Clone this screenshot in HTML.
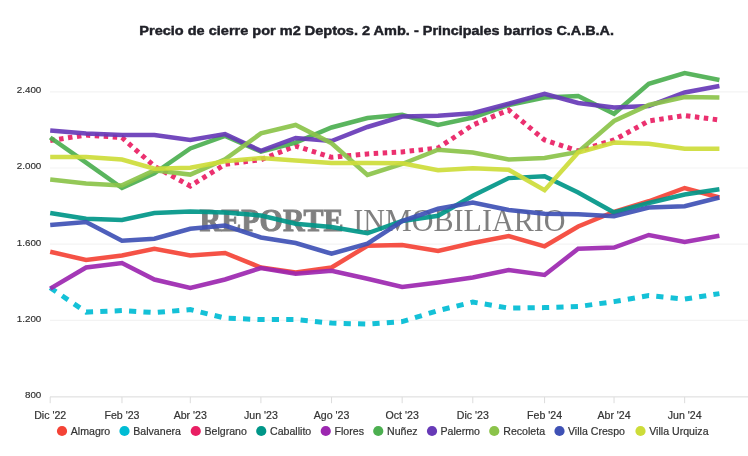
<!DOCTYPE html>
<html lang="es"><head><meta charset="utf-8"><title>Precio de cierre por m2</title>
<style>
html,body{margin:0;padding:0;background:#fff;}
body{width:748px;height:456px;overflow:hidden;font-family:"Liberation Sans",Arial,sans-serif;}
svg{display:block;}
.t{font-family:"Liberation Sans",Arial,sans-serif;font-weight:700;font-size:13.4px;fill:#202128;stroke:#202128;stroke-width:.45px;}
.yl{font-family:"Liberation Sans",Arial,sans-serif;font-size:9.8px;fill:#2e2e2e;stroke:#2e2e2e;stroke-width:.15px;}
.xl{font-family:"Liberation Sans",Arial,sans-serif;font-size:10.6px;fill:#333;stroke:#333;stroke-width:.2px;}
.lg{font-family:"Liberation Sans",Arial,sans-serif;font-size:10.6px;fill:#333;stroke:#333;stroke-width:.2px;}
.ln{fill:none;stroke-linejoin:miter;stroke-miterlimit:10;stroke-linecap:butt;}
.wm{font-family:"Liberation Serif","Times New Roman",serif;font-size:31px;}
</style></head><body>
<svg width="748" height="456" viewBox="0 0 748 456">
<rect width="748" height="456" fill="#fff"/>
<text class="t" x="139.3" y="34.6" textLength="283.5" lengthAdjust="spacingAndGlyphs">Precio de cierre por m2 Deptos. 2 Amb. -&#160;</text><text class="t" x="422.8" y="34.6" textLength="191.2" lengthAdjust="spacingAndGlyphs">Principales barrios C.A.B.A.</text>
<line x1="50" x2="748" y1="91.8" y2="91.8" stroke="#f3f3f3" stroke-width="1.2"/>
<line x1="50" x2="748" y1="168.0" y2="168.0" stroke="#f3f3f3" stroke-width="1.2"/>
<line x1="50" x2="748" y1="244.2" y2="244.2" stroke="#f3f3f3" stroke-width="1.2"/>
<line x1="50" x2="748" y1="320.4" y2="320.4" stroke="#f3f3f3" stroke-width="1.2"/>
<line x1="50" x2="748" y1="396.9" y2="396.9" stroke="#dadada" stroke-width="1"/>
<text class="yl" x="41.3" y="93.1" text-anchor="end">2.400</text>
<text class="yl" x="41.3" y="169.3" text-anchor="end">2.000</text>
<text class="yl" x="41.3" y="245.5" text-anchor="end">1.600</text>
<text class="yl" x="41.3" y="321.7" text-anchor="end">1.200</text>
<text class="yl" x="41.3" y="398.2" text-anchor="end">800</text>
<line x1="50.20" x2="50.20" y1="396.9" y2="403.2" stroke="#dcdcdc" stroke-width="1"/>
<text class="xl" x="50.20" y="418.7" text-anchor="middle">Dic '22</text>
<line x1="121.98" x2="121.98" y1="396.9" y2="403.2" stroke="#dcdcdc" stroke-width="1"/>
<text class="xl" x="121.98" y="418.7" text-anchor="middle">Feb '23</text>
<line x1="190.29" x2="190.29" y1="396.9" y2="403.2" stroke="#dcdcdc" stroke-width="1"/>
<text class="xl" x="190.29" y="418.7" text-anchor="middle">Abr '23</text>
<line x1="260.92" x2="260.92" y1="396.9" y2="403.2" stroke="#dcdcdc" stroke-width="1"/>
<text class="xl" x="260.92" y="418.7" text-anchor="middle">Jun '23</text>
<line x1="331.55" x2="331.55" y1="396.9" y2="403.2" stroke="#dcdcdc" stroke-width="1"/>
<text class="xl" x="331.55" y="418.7" text-anchor="middle">Ago '23</text>
<line x1="402.17" x2="402.17" y1="396.9" y2="403.2" stroke="#dcdcdc" stroke-width="1"/>
<text class="xl" x="402.17" y="418.7" text-anchor="middle">Oct '23</text>
<line x1="472.80" x2="472.80" y1="396.9" y2="403.2" stroke="#dcdcdc" stroke-width="1"/>
<text class="xl" x="472.80" y="418.7" text-anchor="middle">Dic '23</text>
<line x1="544.58" x2="544.58" y1="396.9" y2="403.2" stroke="#dcdcdc" stroke-width="1"/>
<text class="xl" x="544.58" y="418.7" text-anchor="middle">Feb '24</text>
<line x1="614.05" x2="614.05" y1="396.9" y2="403.2" stroke="#dcdcdc" stroke-width="1"/>
<text class="xl" x="614.05" y="418.7" text-anchor="middle">Abr '24</text>
<line x1="684.67" x2="684.67" y1="396.9" y2="403.2" stroke="#dcdcdc" stroke-width="1"/>
<text class="xl" x="684.67" y="418.7" text-anchor="middle">Jun '24</text>
<g fill="#808080" stroke="#808080"><text class="wm" x="199.6" y="231.1" font-weight="700" stroke-width="0.9" textLength="144" lengthAdjust="spacingAndGlyphs">REPORTE</text><text class="wm" x="353.2" y="231.1" stroke-width="0" textLength="212.3" lengthAdjust="spacingAndGlyphs">INMOBILIARIO</text></g>
<g opacity="1">
<polyline class="ln" points="50.20,251.75 86.09,260.00 121.98,255.50 154.40,248.75 190.29,255.50 225.03,253.00 260.92,267.50 295.65,272.50 331.55,267.50 367.44,245.75 402.17,245.00 438.06,251.00 472.80,243.00 508.69,236.00 544.58,246.30 578.16,226.50 614.05,211.75 648.78,201.25 684.67,188.00 719.41,197.50" stroke="#f44336" stroke-width="4.5" stroke-opacity="0.92"/>
<polyline class="ln" points="50.20,287.70 86.09,312.10 121.98,310.60 154.40,312.60 190.29,309.60 225.03,318.10 260.92,319.60 295.65,319.60 331.55,323.10 367.44,324.10 402.17,321.60 438.06,310.60 472.80,302.10 508.69,308.10 544.58,307.60 578.16,306.60 614.05,301.60 648.78,295.60 684.67,299.10 719.41,293.60" stroke="#00bcd4" stroke-width="5.0" stroke-opacity="0.92" stroke-dasharray="7.2 7.2"/>
<polyline class="ln" points="50.20,140.50 86.09,135.10 121.98,137.50 154.40,166.30 190.29,186.00 225.03,164.30 260.92,159.70 295.65,146.00 331.55,157.30 367.44,153.90 402.17,151.90 438.06,148.00 472.80,125.00 508.69,110.00 544.58,140.00 578.16,151.00 614.05,140.00 648.78,121.00 684.67,115.50 719.41,120.00" stroke="#e91e63" stroke-width="5.0" stroke-opacity="0.92" stroke-dasharray="4.5 4.5"/>
<polyline class="ln" points="50.20,213.00 86.09,218.75 121.98,220.00 154.40,213.00 190.29,211.50 225.03,212.50 260.92,215.50 295.65,223.75 331.55,227.00 367.44,233.30 402.17,221.00 438.06,215.80 472.80,195.80 508.69,178.10 544.58,176.20 578.16,192.50 614.05,212.50 648.78,203.00 684.67,194.50 719.41,189.25" stroke="#009688" stroke-width="4.5" stroke-opacity="0.92"/>
<polyline class="ln" points="50.20,288.60 86.09,267.50 121.98,263.00 154.40,279.50 190.29,288.00 225.03,279.50 260.92,268.00 295.65,273.75 331.55,270.75 367.44,278.75 402.17,287.00 438.06,282.50 472.80,277.50 508.69,270.00 544.58,275.00 578.16,248.75 614.05,247.50 648.78,235.00 684.67,242.00 719.41,235.75" stroke="#9c27b0" stroke-width="4.5" stroke-opacity="0.92"/>
<polyline class="ln" points="50.20,137.50 86.09,162.70 121.98,188.00 154.40,173.30 190.29,148.40 225.03,136.00 260.92,151.60 295.65,142.60 331.55,127.50 367.44,118.00 402.17,114.75 438.06,125.00 472.80,117.50 508.69,105.00 544.58,97.50 578.16,96.10 614.05,113.75 648.78,83.75 684.67,73.00 719.41,80.00" stroke="#4caf50" stroke-width="4.5" stroke-opacity="0.92"/>
<polyline class="ln" points="50.20,130.50 86.09,133.50 121.98,135.00 154.40,135.00 190.29,140.00 225.03,134.10 260.92,150.90 295.65,138.00 331.55,141.00 367.44,127.00 402.17,116.50 438.06,115.75 472.80,113.25 508.69,103.75 544.58,93.75 578.16,103.00 614.05,107.50 648.78,106.00 684.67,92.50 719.41,86.00" stroke="#673ab7" stroke-width="4.5" stroke-opacity="0.92"/>
<polyline class="ln" points="50.20,179.50 86.09,183.60 121.98,185.40 154.40,170.20 190.29,174.60 225.03,159.30 260.92,133.40 295.65,125.00 331.55,143.20 367.44,175.00 402.17,164.00 438.06,149.70 472.80,152.50 508.69,159.50 544.58,158.00 578.16,152.00 614.05,121.00 648.78,105.00 684.67,97.00 719.41,97.50" stroke="#8bc34a" stroke-width="4.5" stroke-opacity="0.92"/>
<polyline class="ln" points="50.20,225.00 86.09,222.00 121.98,240.75 154.40,238.75 190.29,228.75 225.03,225.50 260.92,237.50 295.65,243.00 331.55,253.75 367.44,243.75 402.17,221.00 438.06,208.75 472.80,202.50 508.69,210.00 544.58,213.75 578.16,214.30 614.05,216.25 648.78,207.50 684.67,206.25 719.41,197.50" stroke="#3f51b5" stroke-width="4.5" stroke-opacity="0.92"/>
<polyline class="ln" points="50.20,157.00 86.09,157.00 121.98,159.50 154.40,168.70 190.29,167.80 225.03,161.30 260.92,158.00 295.65,160.50 331.55,162.90 367.44,163.00 402.17,163.20 438.06,170.20 472.80,168.30 508.69,169.80 544.58,190.20 578.16,152.50 614.05,142.50 648.78,143.75 684.67,148.75 719.41,148.75" stroke="#cddc39" stroke-width="4.5" stroke-opacity="0.92"/>
</g>
<circle cx="62" cy="431" r="5.1" fill="#f44336"/><text class="lg" x="70.75" y="434.8">Almagro</text>
<circle cx="124.5" cy="431" r="5.1" fill="#00bcd4"/><text class="lg" x="133.25" y="434.8">Balvanera</text>
<circle cx="195.75" cy="431" r="5.1" fill="#e91e63"/><text class="lg" x="204.5" y="434.8">Belgrano</text>
<circle cx="261.25" cy="431" r="5.1" fill="#009688"/><text class="lg" x="270" y="434.8">Caballito</text>
<circle cx="325.75" cy="431" r="5.1" fill="#9c27b0"/><text class="lg" x="334.5" y="434.8">Flores</text>
<circle cx="378.25" cy="431" r="5.1" fill="#4caf50"/><text class="lg" x="387" y="434.8">Nuñez</text>
<circle cx="432" cy="431" r="5.1" fill="#673ab7"/><text class="lg" x="440.5" y="434.8">Palermo</text>
<circle cx="494.25" cy="431" r="5.1" fill="#8bc34a"/><text class="lg" x="503.25" y="434.8">Recoleta</text>
<circle cx="559.5" cy="431" r="5.1" fill="#3f51b5"/><text class="lg" x="568" y="434.8">Villa Crespo</text>
<circle cx="640.5" cy="431" r="5.1" fill="#cddc39"/><text class="lg" x="649.25" y="434.8">Villa Urquiza</text>
</svg>
</body></html>
